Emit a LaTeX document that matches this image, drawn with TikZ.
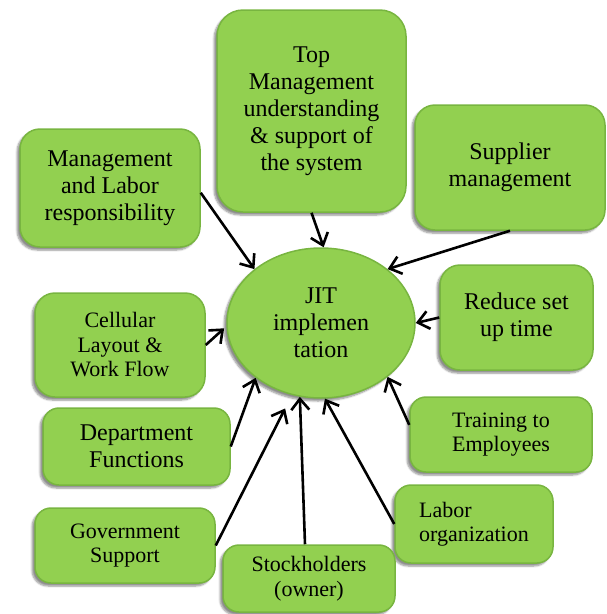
\documentclass[tikz,border=0pt]{standalone}
\usepackage{fontspec}
\setmainfont{LiberationSerif-Regular.ttf}
\usetikzlibrary{arrows.meta,shapes.geometric,shadows.blur}
\definecolor{boxfill}{HTML}{92D050}
\definecolor{boxline}{HTML}{78B540}
\tikzset{
  gbox/.style={draw=boxline, line width=1.5pt, fill=boxfill, rounded corners=20pt,
    align=center, inner sep=0pt,
    blur shadow={shadow xshift=-3pt, shadow yshift=-3pt, shadow blur steps=6, shadow opacity=45}},
  bigtext/.style={font=\rmfamily\fontsize{24}{27}\selectfont},
  smalltext/.style={font=\rmfamily\fontsize{22}{24.5}\selectfont},
  conn/.style={line width=2.6pt, -{Straight Barb[length=11pt,width=18pt,line width=2.6pt]}},
}
\begin{document}
\begin{tikzpicture}[x=1pt,y=-1pt]
\useasboundingbox (0,0) rectangle (607,614);

% central ellipse
\node[gbox, ellipse, minimum width=188pt, minimum height=150pt, bigtext] (jit) at (321,323)
  {JIT\\implemen\\tation};

% boxes
\node[gbox, minimum width=189pt, minimum height=202pt, bigtext, rounded corners=26pt] (tm) at (311.5,111)
  {Top\\Management\\understanding\\\& support of\\the system};
\node[gbox, minimum width=180pt, minimum height=118pt, bigtext] (ml) at (110,188)
  {Management\\and Labor\\responsibility};
\node[gbox, minimum width=190pt, minimum height=125pt, bigtext] (sm) at (510,167.5)
  {Supplier\\management};
\node[gbox, minimum width=153pt, minimum height=105pt, bigtext] (rs) at (516.5,317.5)
  {Reduce set\\up time};
\node[gbox, minimum width=170pt, minimum height=104pt, smalltext] (cl) at (120,345)
  {Cellular\\Layout \&\\Work Flow};
\node[gbox, minimum width=187pt, minimum height=77pt, bigtext, rounded corners=16pt] (df) at (136.5,446.5)
  {Department\\Functions};
\node[gbox, minimum width=182pt, minimum height=75pt, smalltext, rounded corners=16pt] (te) at (501,434.5)
  {Training to\\Employees};
\node[gbox, minimum width=180pt, minimum height=75pt, smalltext, rounded corners=16pt] (gs) at (125,545.5)
  {Government\\Support};
\node[gbox, minimum width=158pt, minimum height=78pt, smalltext, align=left, rounded corners=16pt] (lo) at (474,524)
  {Labor\\organization};
\node[gbox, minimum width=172pt, minimum height=67pt, smalltext, rounded corners=16pt] (sh) at (309,578.5)
  {Stockholders\\(owner)};

% connectors
\draw[conn] (ml.-3) -- (jit.141);
\draw[conn] (tm.south) -- (jit.88);
\draw[conn] (sm.south) -- (jit.39);
\draw[conn] (rs.west) -- (jit.0);
\draw[conn] (te.174) -- (jit.-39);
\draw[conn] (lo.west) -- (jit.-87);
\draw[conn] ([xshift=-4pt]sh.north) -- (jit.-106);
\draw[conn, shorten >=15pt] (gs.east) -- (jit.-112);
\draw[conn] (df.east) -- (jit.-140);
\draw[conn, shorten >=3pt] (cl.east) -- (jit.182);
\end{tikzpicture}
\end{document}
